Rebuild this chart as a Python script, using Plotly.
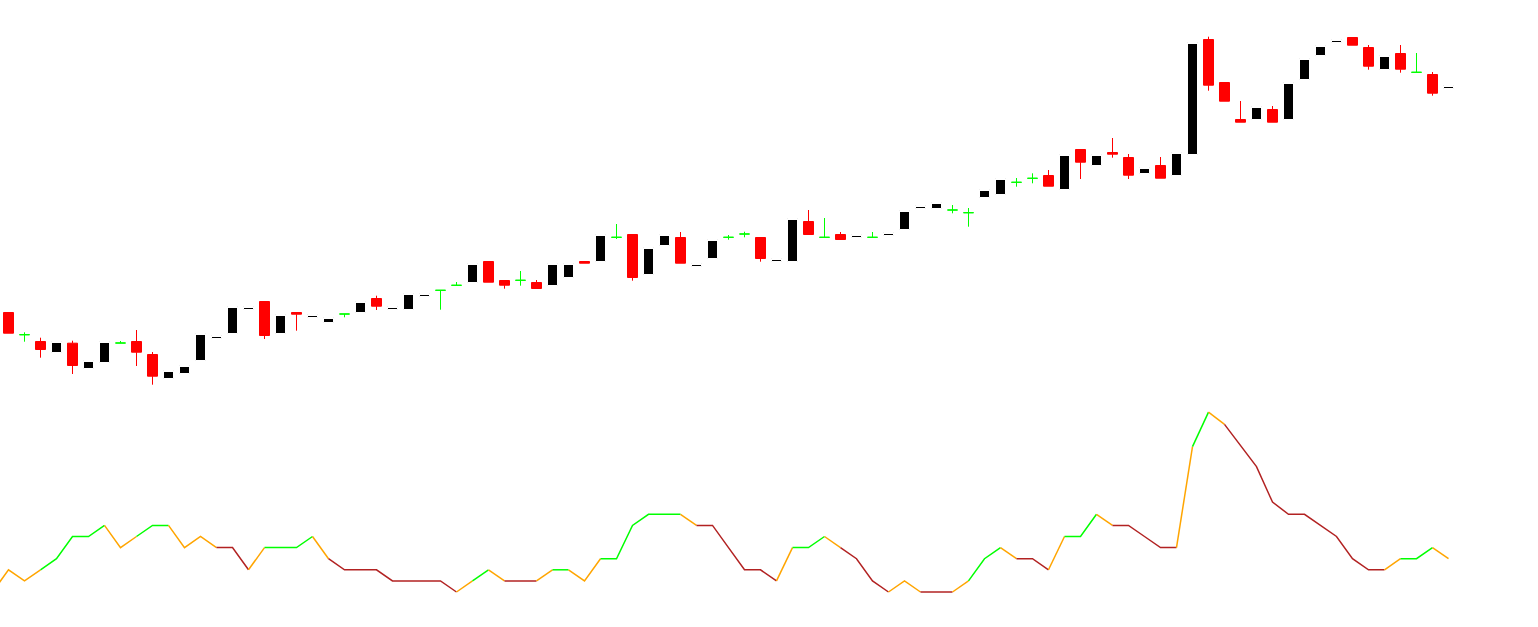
import plotly.graph_objects as go

# ---- candle data (arbitrary price units) ----
opens = [314.5, 292.3, 285.5, 274.5, 283.8, 258.5, 264.5, 284.0, 285.5, 272.5,
         248.5, 253.5, 266.5, 288.5, 293.5, 317.5, 325.5, 293.5, 314.5, 309.5,
         304.5, 313.0, 314.5, 328.5, 317.5, 317.5, 330.5, 336.7, 341.7, 344.5,
         365.5, 346.5, 346.7, 344.5, 341.5, 349.5, 365.5, 365.5, 389.7, 392.5,
         352.5, 381.5, 389.5, 360.5, 368.5, 389.7, 393.0, 389.5, 365.5, 365.5,
         405.5, 389.7, 392.5, 389.5, 389.7, 391.5, 397.5, 418.5, 418.5, 417.0,
         414.3, 429.5, 432.5, 444.7, 448.7, 451.5, 437.5, 477.5, 461.5, 474.5,
         469.5, 453.5, 461.5, 451.5, 472.5, 587.5, 544.5, 507.5, 507.5, 517.5,
         507.5, 547.5, 571.5, 584.5, 589.5, 579.5, 557.5, 573.5, 554.7, 552.5,
         538.5]
highs = [314.5, 294.7, 289.3, 285.5, 286.3, 266.5, 285.5, 286.0, 297.0, 275.0,
         256.5, 261.5, 293.5, 291.5, 320.5, 320.5, 325.5, 312.5, 314.5, 312.5,
         309.5, 313.0, 325.5, 331.3, 320.5, 333.5, 333.5, 336.7, 345.0, 363.5,
         365.5, 346.5, 356.0, 347.0, 363.5, 363.5, 365.5, 392.5, 403.0, 392.5,
         379.5, 392.5, 395.0, 363.5, 387.5, 392.0, 395.3, 389.5, 368.5, 408.5,
         417.0, 409.0, 395.0, 392.5, 395.0, 394.5, 416.5, 421.5, 424.5, 422.0,
         419.0, 437.5, 448.5, 449.0, 453.7, 457.0, 472.5, 477.5, 472.5, 489.0,
         473.0, 459.5, 470.0, 474.5, 584.5, 590.3, 544.5, 526.0, 520.5, 521.0,
         544.5, 568.5, 581.5, 587.5, 589.5, 582.0, 571.5, 582.0, 574.0, 555.0,
         541.5]
lows = [293.8, 285.3, 269.3, 274.5, 253.0, 258.5, 264.5, 284.0, 261.0, 242.3,
        248.5, 253.5, 266.5, 288.5, 293.5, 317.5, 288.0, 293.5, 296.3, 309.5,
        304.5, 309.7, 314.5, 317.0, 317.5, 317.5, 330.5, 317.3, 341.7, 344.5,
        344.8, 338.3, 341.3, 338.5, 341.5, 349.5, 363.8, 365.5, 388.0, 346.3,
        352.5, 381.5, 363.8, 360.5, 368.5, 387.3, 389.7, 365.3, 365.5, 365.5,
        392.5, 389.7, 387.5, 389.5, 389.7, 391.5, 397.5, 418.5, 418.5, 413.7,
        400.3, 429.5, 432.5, 440.3, 443.7, 440.8, 437.5, 448.0, 461.5, 469.3,
        448.0, 453.5, 448.8, 451.5, 472.5, 536.3, 525.8, 504.8, 507.5, 504.8,
        507.5, 547.5, 571.5, 584.5, 581.8, 557.3, 557.5, 554.3, 554.7, 531.3,
        538.5]
closes = [293.8, 292.3, 277.5, 285.5, 261.5, 266.5, 285.5, 284.0, 274.8, 250.8,
          256.5, 261.5, 293.5, 291.5, 320.5, 320.5, 291.5, 312.5, 312.8, 312.5,
          309.5, 313.0, 325.5, 320.8, 320.5, 333.5, 333.5, 336.7, 341.7, 363.5,
          344.8, 341.8, 346.7, 338.5, 363.5, 363.5, 363.8, 392.5, 389.7, 349.5,
          379.5, 392.5, 363.8, 363.5, 387.5, 389.7, 393.0, 368.5, 368.5, 408.5,
          392.5, 389.7, 387.5, 392.5, 389.7, 394.5, 416.5, 421.5, 424.5, 417.0,
          414.3, 437.5, 448.5, 444.7, 448.7, 440.8, 472.5, 464.8, 472.5, 472.8,
          451.8, 459.5, 448.8, 474.5, 584.5, 541.8, 525.8, 504.8, 520.5, 504.8,
          544.5, 568.5, 581.5, 587.5, 581.8, 560.8, 571.5, 557.8, 554.7, 533.8,
          541.5]
bars = list(range(len(opens)))

# ---- lower indicator (first value belongs to the bar before the window) ----
ind_x = list(range(-1, len(opens)))
ind_vals = [0,
            2, 1, 2, 3, 5, 5, 6, 4, 5, 6,
            6, 4, 5, 4, 4, 2, 4, 4, 4, 5,
            3, 2, 2, 2, 1, 1, 1, 1, 0, 1,
            2, 1, 1, 1, 2, 2, 1, 3, 3, 6,
            7, 7, 7, 6, 6, 4, 2, 2, 1, 4,
            4, 5, 4, 3, 1, 0, 1, 0, 0, 0,
            1, 3, 4, 3, 3, 2, 5, 5, 7, 6,
            6, 5, 4, 4, 13.1, 16.2, 15.1, 13.2, 11.3, 8.1,
            7, 7, 6, 5, 3, 2, 2, 3, 3, 4, 3]

UP_COL, DN_COL, REV_COL = "#00FF00", "#B22222", "#FFA500"

fig = go.Figure()

def sel(cond):
    ii = [i for i in bars if cond(opens[i], closes[i])]
    return ([bars[i] for i in ii], [opens[i] for i in ii], [highs[i] for i in ii],
            [lows[i] for i in ii], [closes[i] for i in ii])

# bullish: black body, white outline/wicks
x, o, h, l, c = sel(lambda a, b: b > a)
fig.add_trace(go.Candlestick(x=x, open=o, high=h, low=l, close=c,
    increasing=dict(line=dict(color="white", width=1), fillcolor="black"),
    decreasing=dict(line=dict(color="white", width=1), fillcolor="black"),
    whiskerwidth=0, hoverinfo="skip"))
# bearish: red
x, o, h, l, c = sel(lambda a, b: b < a)
fig.add_trace(go.Candlestick(x=x, open=o, high=h, low=l, close=c,
    increasing=dict(line=dict(color="#FF0000", width=1), fillcolor="#FF0000"),
    decreasing=dict(line=dict(color="#FF0000", width=1), fillcolor="#FF0000"),
    whiskerwidth=0, hoverinfo="skip"))
# doji: green
x, o, h, l, c = sel(lambda a, b: b == a)
fig.add_trace(go.Candlestick(x=x, open=o, high=h, low=l, close=c,
    increasing=dict(line=dict(color="#00FF00", width=1), fillcolor="#00FF00"),
    decreasing=dict(line=dict(color="#00FF00", width=1), fillcolor="#00FF00"),
    whiskerwidth=0, hoverinfo="skip"))

# indicator segments coloured by direction (continuation vs reversal)
seg_cols = []
last_dir = -1
for i in range(1, len(ind_vals)):
    d = ind_vals[i] - ind_vals[i - 1]
    cur = 1 if d > 0 else (-1 if d < 0 else 0)
    if cur == 0:
        col = UP_COL if last_dir > 0 else DN_COL
    elif cur == last_dir:
        col = UP_COL if cur > 0 else DN_COL
    else:
        col = REV_COL
    if cur != 0:
        last_dir = cur
    seg_cols.append(col)

start = 0
for i in range(1, len(seg_cols) + 1):
    if i == len(seg_cols) or seg_cols[i] != seg_cols[start]:
        fig.add_trace(go.Scatter(x=ind_x[start:i + 1], y=ind_vals[start:i + 1],
                                 mode="lines", yaxis="y2",
                                 line=dict(color=seg_cols[start], width=1.5),
                                 hoverinfo="skip"))
        start = i

W, H = 1538, 627
px_per_bar = 16.0
x0 = -8.5 / px_per_bar
x1 = x0 + W / px_per_bar
unit = 11.1
r0 = -(H - 592) / unit
r1 = r0 + H / unit

fig.update_layout(
    width=W, height=H, margin=dict(l=0, r=0, t=0, b=0),
    paper_bgcolor="white", plot_bgcolor="white", showlegend=False,
    boxgap=0.375, boxgroupgap=0,
    xaxis=dict(range=[x0, x1], visible=False, rangeslider=dict(visible=False)),
    yaxis=dict(range=[0, H], visible=False),
    yaxis2=dict(range=[r0, r1], visible=False, overlaying="y"),
)
fig.write_html("out.html", config={"displayModeBar": False},
               post_script="document.body.style.margin='0';document.body.style.overflow='hidden';")
